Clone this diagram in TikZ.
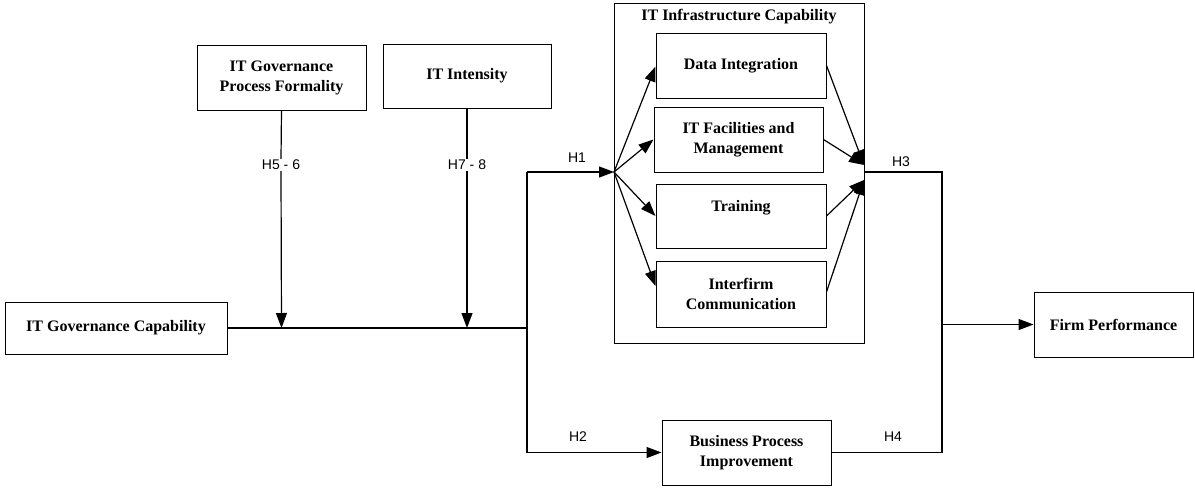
\documentclass[tikz,border=0pt]{standalone}
\usepackage{fontspec}
\setmainfont{Liberation Serif}
\setsansfont{Liberation Sans}
\usetikzlibrary{arrows.meta}
\begin{document}
\begin{tikzpicture}[x=1pt,y=-1pt,
  box/.style={draw,line width=1pt,inner sep=0pt,align=center,font=\bfseries\fontsize{16}{20}\selectfont},
  lab/.style={font=\sffamily\fontsize{14}{16}\selectfont,inner sep=1pt},
  conn/.style={line width=1.2pt},
  arr/.style={conn,-{Triangle[length=15pt,width=11pt]}}]
\useasboundingbox (0,0) rectangle (1195,488);
% boxes
\node[box,minimum width=222pt,minimum height=52pt] (gc) at (116,328) {IT Governance Capability};
\node[box,minimum width=169pt,minimum height=65pt] (gpf) at (281.5,77.5) {IT Governance\\Process Formality};
\node[box,minimum width=168pt,minimum height=64pt] (iti) at (467,76) {IT Intensity};
\node[box,minimum width=250pt,minimum height=340pt] (infra) at (739,173) {};
\node[font=\bfseries\fontsize{16}{20}\selectfont,inner sep=0pt] (infratitle) at (739,17) {IT Infrastructure Capability};
\node[box,minimum width=170pt,minimum height=65pt] (di) at (741,65.5) {Data Integration};
\node[box,minimum width=169pt,minimum height=65pt] (fac) at (738.5,139.5) {IT Facilities and\\Management};
\node[box,minimum width=170pt,minimum height=64pt] (tr) at (741,216) {};
\node[font=\bfseries\fontsize{16}{20}\selectfont,inner sep=0pt] (trtext) at (741,208) {Training};
\node[box,minimum width=170pt,minimum height=66pt] (if) at (741,294) {Interfirm\\Communication};
\node[box,minimum width=159pt,minimum height=65pt] (fp) at (1113.5,324.5) {Firm Performance};
\node[box,minimum width=169pt,minimum height=65pt] (bpi) at (746.5,452.5) {Business Process\\Improvement};
% junctions
\coordinate (j1) at (527,328);
\coordinate (jtop) at (527,172);
\coordinate (jbot) at (527,452.5);
\coordinate (fan) at (614,172);
\coordinate (conv1) at (864,165);
\coordinate (conv2) at (864,180);
\coordinate (conv) at (864,172);
\coordinate (r1) at (942,172);
\coordinate (r2) at (942,452.5);
\coordinate (rm) at (942,324.5);
% labels
\node[lab] (h56) at (281,165) {H5 - 6};
\node[lab] (h78) at (467,165) {H7 - 8};
\node[lab] (h1) at (577,158) {H1};
\node[lab] (h2) at (578,437) {H2};
\node[lab] (h3) at (901,162) {H3};
\node[lab] (h4) at (893,437) {H4};
% connectors
\draw[conn] (gc.east) -- (j1);
\draw[conn] (jtop) -- (jbot);
\draw[conn] (gpf.south) -- (h56.north);
\draw[arr] (h56.south) -- (gpf.south |- j1);
\draw[conn] (iti.south) -- (h78.north);
\draw[arr] (h78.south) -- (iti.south |- j1);
\draw[arr] (jtop) -- (fan);
\draw[arr] (jbot) -- (bpi.west);
\draw[arr] (fan) -- ([yshift=-1pt]di.west);
\draw[arr] (fan) -- (fac.west);
\draw[arr] (fan) -- (tr.west);
\draw[arr] (fan) -- ([yshift=8pt]if.west);
\draw[arr] (di.east) -- (conv1);
\draw[arr] (fac.east) -- (conv1);
\draw[arr] (tr.east) -- (conv2);
\draw[arr] ([yshift=2pt]if.east) -- (conv2);
\draw[conn] (conv) -- (r1) -- (r2);
\draw[conn] (bpi.east) -- (r2);
\draw[arr] (rm) -- (fp.west);
\end{tikzpicture}
\end{document}
